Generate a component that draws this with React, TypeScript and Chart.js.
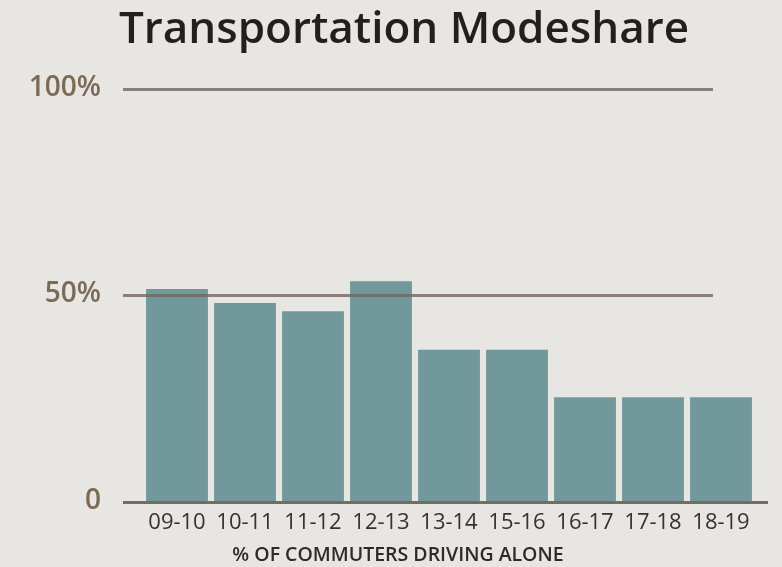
import React, { useEffect, useRef } from "react";
import { Chart, registerables } from "chart.js";

Chart.register(...registerables);

const title = "Transportation Modeshare";
const categories = ["09-10", "10-11", "11-12", "12-13", "13-14", "15-16", "16-17", "17-18", "18-19"];
const values = [51.3, 47.9, 45.9, 53.2, 36.6, 36.6, 25.1, 25.1, 25.1];
const gridValues = [50, 100];
const xAxisTitle = "% OF COMMUTERS DRIVING ALONE";

const FONT = "'Open Sans', 'Lato', sans-serif";

const gridPlugin = {
  id: "customGrid",
  afterDatasetsDraw(chart: any) {
    const { ctx, chartArea, scales } = chart;
    const y = scales.y;
    ctx.save();
    ctx.lineWidth = 3;
    ctx.strokeStyle = "rgba(112,103,95,0.8)";
    gridValues.forEach((v) => {
      const py = Math.round(y.getPixelForValue(v)) + 1.5;
      ctx.beginPath();
      ctx.moveTo(chartArea.left - 20, py);
      ctx.lineTo(chartArea.right - 42, py);
      ctx.stroke();
    });
    ctx.strokeStyle = "#736c65";
    ctx.lineWidth = 3;
    const p0 = Math.round(y.getPixelForValue(0)) + 1.5;
    ctx.beginPath();
    ctx.moveTo(chartArea.left - 20, p0);
    ctx.lineTo(chartArea.right + 13, p0);
    ctx.stroke();
    // x-axis title
    ctx.fillStyle = "#2b2b2b";
    ctx.font = `600 19.5px ${FONT}`;
    ctx.textAlign = "center";
    ctx.textBaseline = "middle";
    ctx.fillText(xAxisTitle, (chartArea.left + chartArea.right) / 2 - 51, chart.height - 12);
    ctx.restore();
  },
};

export default function App() {
  const ref = useRef<HTMLCanvasElement | null>(null);
  useEffect(() => {
    document.body.style.margin = "0";
    document.body.style.background = "#e8e6e2";
    const chart = new Chart(ref.current as HTMLCanvasElement, {
      type: "bar",
      data: {
        labels: categories,
        datasets: [
          {
            data: values,
            backgroundColor: "#71999c",
            borderWidth: 0,
            categoryPercentage: 1,
            barPercentage: 0.91,
          },
        ],
      },
      plugins: [gridPlugin],
      options: {
        animation: false,
        responsive: true,
        maintainAspectRatio: false,
        layout: { padding: { left: 26, right: 0, top: 0, bottom: 0 } },
        plugins: {
          legend: { display: false },
          tooltip: { enabled: false },
          title: {
            display: true,
            text: title,
            color: "#231f20",
            font: { family: FONT, size: 44, weight: "600" },
            padding: { top: 4, bottom: 31 },
          },
        },
        scales: {
          x: {
            grid: { display: false, drawTicks: false },
            border: { display: false },
            ticks: {
              color: "#333333",
              font: { family: FONT, size: 22, weight: "500" },
              padding: 9,
              maxRotation: 0,
              autoSkip: false,
            },
            afterFit(s: any) {
              s.height = 66;
            },
          },
          y: {
            min: 0,
            max: 100,
            grid: { display: false, drawTicks: false },
            border: { display: false },
            ticks: {
              stepSize: 50,
              color: "#7b6a55",
              font: { family: FONT, size: 28, weight: "600" },
              padding: 42,
              callback: (v: any) => (v === 0 ? "0" : v + "%"),
            },
            afterFit(s: any) {
              s.width = 117;
            },
          },
          yR: {
            position: "right",
            display: true,
            grid: { display: false, drawTicks: false },
            border: { display: false },
            ticks: { display: false },
            afterFit(s: any) {
              s.width = 27;
            },
          },
        },
      } as any,
    });
    return () => chart.destroy();
  }, []);
  return (
    <div style={{ width: 782, height: 567, background: "#e8e6e2", position: "relative" }}>
      <canvas ref={ref} />
    </div>
  );
}
